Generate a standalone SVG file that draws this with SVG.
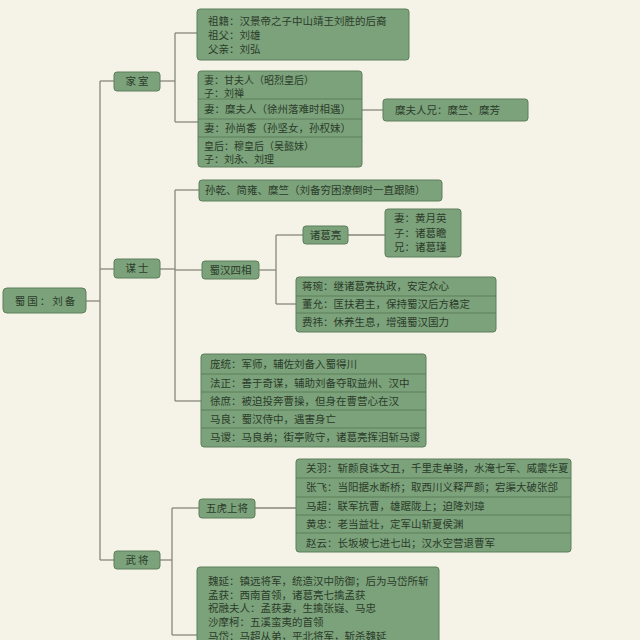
<svg xmlns="http://www.w3.org/2000/svg" width="640" height="640" viewBox="0 0 640 640">
<style>
.bg{fill:#f5f2e8}
.box{fill:#7ba27a;stroke:#5c7e5a;stroke-width:1}
.div{stroke:#5c7e5a;stroke-width:1}
.t{font-family:"Noto Sans CJK SC","Noto Sans CJK JP",sans-serif;font-size:10.5px;fill:#2c3b2a}
.s{font-size:10px}
.c{text-anchor:middle}
.sp{letter-spacing:2px}
#connectors path{fill:none;stroke:#85877a;stroke-width:1.3}
</style>
<rect class="bg" x="0" y="0" width="640" height="640"/>
<g id="connectors">
<path d="M86,301 H100"/>
<path d="M100,81 V560"/>
<path d="M100,81 H114"/>
<path d="M100,269 H114"/>
<path d="M100,560 H114"/>
<path d="M160,81 H175"/>
<path d="M175,33 V122"/>
<path d="M175,33 H197"/>
<path d="M175,122 H198"/>
<path d="M362,110 H383"/>
<path d="M160,269 H175"/>
<path d="M175,190 V401"/>
<path d="M175,190 H199"/>
<path d="M175,270 H202"/>
<path d="M175,401 H201"/>
<path d="M259,270 H276"/>
<path d="M276,235 V304"/>
<path d="M276,235 H303"/>
<path d="M276,304 H296"/>
<path d="M348,235 H385"/>
<path d="M160,560 H172"/>
<path d="M172,508 V635"/>
<path d="M172,508 H199"/>
<path d="M172,635 H197"/>
<path d="M255,508 H296"/>
</g>
<g id="root">
<rect class="box" x="3" y="288" width="83" height="25" rx="4"/>
<text class="t c sp" x="46" y="305">蜀国：刘备</text>
</g>
<g id="jiashi">
<rect class="box" x="114" y="72" width="46" height="19" rx="3"/>
<text class="t c sp" x="138" y="85">家室</text>
</g>
<g id="moushi">
<rect class="box" x="114" y="259" width="46" height="19" rx="3"/>
<text class="t c sp" x="138" y="272">谋士</text>
</g>
<g id="wujiang">
<rect class="box" x="114" y="551" width="46" height="18" rx="3"/>
<text class="t c sp" x="138" y="564">武将</text>
</g>
<g id="zuji">
<rect class="box" x="197" y="9" width="212" height="51" rx="3"/>
<text class="t" x="208" y="25">祖籍：汉景帝之子中山靖王刘胜的后裔<tspan x="208" dy="14">祖父：刘雄</tspan><tspan x="208" dy="14">父亲：刘弘</tspan></text>
</g>
<g id="wives">
<rect class="box" x="198" y="71" width="164" height="96" rx="3"/>
<line class="div" x1="198" y1="99" x2="362" y2="99"/>
<line class="div" x1="198" y1="119" x2="362" y2="119"/>
<line class="div" x1="198" y1="137" x2="362" y2="137"/>
<text class="t s" x="204" y="84">妻：甘夫人（昭烈皇后）<tspan x="204" dy="12.5">子：刘禅</tspan></text>
<text class="t" x="204" y="113">妻：糜夫人（徐州落难时相遇）</text>
<text class="t" x="204" y="132">妻：孙尚香（孙坚女，孙权妹）</text>
<text class="t s" x="204" y="150">皇后：穆皇后（吴懿妹）<tspan x="204" dy="12.5">子：刘永、刘理</tspan></text>
</g>
<g id="mifuren">
<rect class="box" x="383" y="99" width="145" height="22" rx="3"/>
<text class="t" x="395" y="114">糜夫人兄：糜竺、糜芳</text>
</g>
<g id="sunqian">
<rect class="box" x="199" y="180" width="243" height="21" rx="3"/>
<text class="t" x="205" y="194">孙乾、简雍、糜竺（刘备穷困潦倒时一直跟随）</text>
</g>
<g id="sixiang">
<rect class="box" x="202" y="261" width="57" height="18" rx="3"/>
<text class="t c" x="230.5" y="274">蜀汉四相</text>
</g>
<g id="zhugeliang">
<rect class="box" x="303" y="226" width="45" height="18" rx="3"/>
<text class="t c" x="325.5" y="239">诸葛亮</text>
</g>
<g id="zhugefamily">
<rect class="box" x="385" y="209" width="76" height="48" rx="3"/>
<text class="t" x="394" y="222">妻：黄月英<tspan x="394" dy="14.5">子：诸葛瞻</tspan><tspan x="394" dy="14.5">兄：诸葛瑾</tspan></text>
</g>
<g id="xiang3">
<rect class="box" x="296" y="277" width="200" height="55" rx="3"/>
<line class="div" x1="296" y1="296" x2="496" y2="296"/>
<line class="div" x1="296" y1="313" x2="496" y2="313"/>
<text class="t" x="302" y="290">蒋琬：继诸葛亮执政，安定众心</text>
<text class="t" x="302" y="308">董允：匡扶君主，保持蜀汉后方稳定</text>
<text class="t" x="302" y="326">费祎：休养生息，增强蜀汉国力</text>
</g>
<g id="pangtong">
<rect class="box" x="201" y="354" width="225" height="93" rx="3"/>
<line class="div" x1="201" y1="374" x2="426" y2="374"/>
<line class="div" x1="201" y1="392" x2="426" y2="392"/>
<line class="div" x1="201" y1="410" x2="426" y2="410"/>
<line class="div" x1="201" y1="428" x2="426" y2="428"/>
<text class="t" x="210" y="368">庞统：军师，辅佐刘备入蜀得川</text>
<text class="t" x="210" y="387">法正：善于奇谋，辅助刘备夺取益州、汉中</text>
<text class="t" x="210" y="405">徐庶：被迫投奔曹操，但身在曹营心在汉</text>
<text class="t" x="210" y="423">马良：蜀汉侍中，遇害身亡</text>
<text class="t" x="210" y="441">马谡：马良弟；街亭败守，诸葛亮挥泪斩马谡</text>
</g>
<g id="wuhu">
<rect class="box" x="199" y="499" width="56" height="19" rx="3"/>
<text class="t c" x="227" y="512">五虎上将</text>
</g>
<g id="wuhulist">
<rect class="box" x="296" y="459" width="275" height="93" rx="3"/>
<line class="div" x1="296" y1="478" x2="571" y2="478"/>
<line class="div" x1="296" y1="497" x2="571" y2="497"/>
<line class="div" x1="296" y1="515" x2="571" y2="515"/>
<line class="div" x1="296" y1="533" x2="571" y2="533"/>
<text class="t" x="306" y="472">关羽：斩颜良诛文丑，千里走单骑，水淹七军、威震华夏</text>
<text class="t" x="306" y="491">张飞：当阳据水断桥；取西川义释严颜；宕渠大破张郃</text>
<text class="t" x="306" y="510">马超：联军抗曹，雄踞陇上；迫降刘璋</text>
<text class="t" x="306" y="528">黄忠：老当益壮，定军山斩夏侯渊</text>
<text class="t" x="306" y="547">赵云：长坂坡七进七出；汉水空营退曹军</text>
</g>
<g id="others">
<rect class="box" x="197" y="567" width="242" height="90" rx="3"/>
<text class="t" x="208" y="585">魏延：镇远将军，统造汉中防御；后为马岱所斩<tspan x="208" dy="13.5">孟获：西南首领，诸葛亮七擒孟获</tspan><tspan x="208" dy="13.5">祝融夫人：孟获妻，生擒张嶷、马忠</tspan><tspan x="208" dy="13.5">沙摩柯：五溪蛮夷的首领</tspan><tspan x="208" dy="14.5">马岱：马超从弟，平北将军，斩杀魏延</tspan></text>
</g>
</svg>
